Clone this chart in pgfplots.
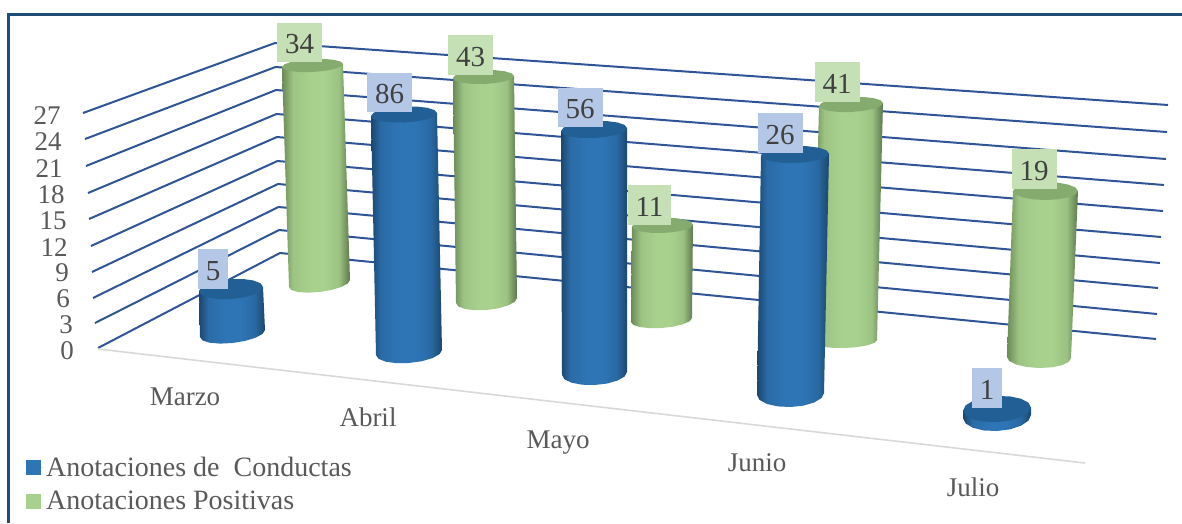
\documentclass[border=0pt]{standalone}
\usepackage{fontspec}
\setmainfont{Liberation Serif}
\usepackage{pgfplots}
\pgfplotsset{compat=1.18}
\usepackage{pgfplotstable}

\definecolor{framec}{HTML}{1F4E79}
\definecolor{gridc}{HTML}{2F5597}
\definecolor{floorc}{HTML}{D9D9D9}
\definecolor{txtc}{HTML}{595959}
\definecolor{lblc}{HTML}{404040}
\definecolor{bluec}{HTML}{2E75B6}
\definecolor{greenc}{HTML}{A9D18E}
\definecolor{bluecap}{HTML}{215F95}
\definecolor{greencap}{HTML}{86AB6E}
\definecolor{bluebox}{HTML}{B4C7E7}
\definecolor{greenbox}{HTML}{C5E0B4}

% the path's box covers 25bp to 75bp of the shading
\pgfdeclarehorizontalshading{cylblue}{100bp}{
  color(0bp)=(framec!90!black); color(25bp)=(framec!90!black); color(32bp)=(bluec!75!framec); color(45bp)=(bluec);
  color(56bp)=(bluec); color(67bp)=(bluec!70!framec); color(75bp)=(framec!90!black); color(100bp)=(framec!90!black)}
\pgfdeclarehorizontalshading{cylgreen}{100bp}{
  color(0bp)=(greencap!80!black); color(25bp)=(greencap!80!black); color(33bp)=(greenc!65!greencap); color(46bp)=(greenc);
  color(56bp)=(greenc); color(67bp)=(greenc!60!greencap); color(75bp)=(greencap!70!black); color(100bp)=(greencap!70!black)}

% outline of a cylinder side: two top corners and the lower half ellipse
\pgfplotstableread{
top c s
1 -1 0
0 -1 0
0 -.924 .383
0 -.707 .707
0 -.383 .924
0 0 1
0 .383 .924
0 .707 .707
0 .924 .383
0 1 0
1 1 0
}\cylside

% full ellipse for the cap
\pgfplotstableread{
c s
1 0
.924 .383
.707 .707
.383 .924
0 1
-.383 .924
-.707 .707
-.924 .383
-1 0
-.924 -.383
-.707 -.707
-.383 -.924
0 -1
.383 -.924
.707 -.707
.924 -.383
}\cylring

% value labels, placed above each cylinder (picture pixels)
\pgfplotstableread{
x y lab
213 269 5
389.5 92.5 86
580 107.5 56
780 133 26
987 388 1
}\bluelabels
\pgfplotstableread{
x y lab
299.5 42.5 34
470.5 55 43
649.5 205 11
837 82 41
1034 169 19
}\greenlabels

\pgfplotstableread{
x y lab
47 116 27
48 142 24
49 169 21
51 195 18
53 221 15
54 248 12
62 273 9
63 299 6
66 325 3
67 351 0
}\yticks

\pgfplotstableread{
x y lab
185 397 Marzo
368 417 Abril
558 443 Mayo
757 463 Junio
973 487 Julio
}\months

% #1 shading, then top left, top right, bottom left, bottom right; \low = lowest y
\newcommand\cylbody[9]{%
  \addplot[shade,shading=#1,draw=none] table[
    x expr={\thisrow{top}*((#2+#4)/2+(#4-#2)/2*\thisrow{c})+(1-\thisrow{top})*((#6+#8)/2+(#8-#6)/2*\thisrow{c})},
    y expr={\thisrow{top}*((#3+#5)/2+(#5-#3)/2*\thisrow{c})+(1-\thisrow{top})*((#7+#9)/2+(#9-#7)/2*\thisrow{c}+(\low-(#7+#9)/2)*\thisrow{s})}
  ] {\cylside};}
% #1 colour, top left, top right, half height
\newcommand\cylcap[6]{%
  \addplot[fill=#1,draw=none] table[
    x expr={(#2+#4)/2+(#4-#2)/2*\thisrow{c}},
    y expr={(#3+#5)/2+(#5-#3)/2*\thisrow{c}+#6*\thisrow{s}}
  ] {\cylring};}

\newcommand\catfont{\fontsize{27}{30}\selectfont}
\newcommand\numfont{\fontsize{29}{32}\selectfont}
\newcommand\legfont{\fontsize{28}{31}\selectfont}
\pgfplotsset{
  textlabels/.style={draw=none,mark=none,nodes near coords,point meta=explicit symbolic,
    every node near coord/.style={anchor=center,font=\catfont,text=txtc,inner sep=0pt}},
  boxlabels/.style={draw=none,mark=none,nodes near coords,point meta=explicit symbolic,
    every node near coord/.style={anchor=center,font=\numfont,text=lblc,fill=#1,
      inner xsep=8pt,inner ysep=0pt,minimum height=39.5pt,text height=22.6pt,text depth=0pt}},
  gridline/.style={draw=gridc,line width=2pt},
}

\begin{document}
\begin{tikzpicture}
\begin{axis}[
  width=1182pt,height=523pt,scale only axis,
  xmin=0,xmax=1182,ymin=0,ymax=523,y dir=reverse,
  hide axis,
  legend style={at={(axis description cs:0.022,0.131)},anchor=north west,draw=none,fill=none,
    font=\legfont\color{txtc},row sep=9.5pt,inner sep=0pt},
  legend cell align=left,
  legend image code/.code={\fill[#1,draw=none] (0pt,-7.5pt) rectangle (15pt,7.5pt);\path[draw=none] (0pt,0pt) -- (18pt,0pt);},
]
\path (rel axis cs:0,0) rectangle (rel axis cs:1,1);

\addlegendimage{fill=bluec}
\addlegendentry{Anotaciones de\ \ Conductas}
\addlegendimage{fill=greenc}
\addlegendentry{Anotaciones Positivas}

% frame
\addplot[draw=framec,line width=3pt] coordinates {(8.7,523) (8.7,14) (1182,14)};

% walls: one line per value 27, 24, ... 0
\addplot[gridline] coordinates {(83,113) (275,43) (1168,105)};
\addplot[gridline] coordinates {(85,139) (275.5,67) (1167,132)};
\addplot[gridline] coordinates {(86,166) (276,90) (1166,159)};
\addplot[gridline] coordinates {(88,193) (276.5,114) (1164,185)};
\addplot[gridline] coordinates {(89,219) (277,137) (1163,211)};
\addplot[gridline] coordinates {(91,246) (277.5,161) (1161,237)};
\addplot[gridline] coordinates {(92,272) (278,184) (1160,263)};
\addplot[gridline] coordinates {(93,298) (278.5,207) (1158,288)};
\addplot[gridline] coordinates {(95,323) (279,230) (1157,314)};
\addplot[gridline] coordinates {(98,348) (280,253) (1156,339)};
% floor edge
\addplot[draw=floorc,line width=1.6pt] coordinates {(98,349) (1085,463)};

% green series
\def\low{292}\cylbody{cylgreen}{282}{67}{343}{64}{289}{287}{350}{280}
\cylcap{greencap}{282}{67}{343}{64}{6.5}
\def\low{310}\cylbody{cylgreen}{453}{78}{514}{76}{456}{303}{517}{298}
\cylcap{greencap}{453}{78}{514}{76}{7}
\def\low{328}\cylbody{cylgreen}{632}{226.5}{693}{224.5}{631}{322}{692}{318}
\cylcap{greencap}{632}{226.5}{693}{224.5}{7.5}
\def\low{348}\cylbody{cylgreen}{819}{106}{883}{103}{813}{342}{877}{340}
\cylcap{greencap}{819}{106}{883}{103}{7.5}
\def\low{368}\cylbody{cylgreen}{1013}{191}{1078}{191}{1007}{357}{1071}{358}
\cylcap{greencap}{1013}{191}{1078}{191}{9}

% blue series
\def\low{343}\cylbody{cylblue}{199}{291}{263}{287}{200}{337}{265}{330}
\cylcap{bluecap}{199}{291}{263}{287}{10}
\def\low{363}\cylbody{cylblue}{371}{116}{437}{113}{376}{355}{442}{350}
\cylcap{bluecap}{371}{116}{437}{113}{8}
\def\low{385}\cylbody{cylblue}{561}{131}{627}{128}{562}{375}{627}{372}
\cylcap{bluecap}{561}{131}{627}{128}{8.5}
\def\low{407}\cylbody{cylblue}{761}{155.5}{829}{153.5}{757}{395}{824}{393}
\cylcap{bluecap}{761}{155.5}{829}{153.5}{8.5}
\def\low{431}\cylbody{cylblue}{963}{410.5}{1031}{407.5}{963}{418}{1031}{415}
\cylcap{bluecap}{963}{410.5}{1031}{407.5}{13}

% texts
\addplot[textlabels] table[meta=lab] {\yticks};
\addplot[textlabels] table[meta=lab] {\months};
\addplot[boxlabels=greenbox] table[meta=lab] {\greenlabels};
\addplot[boxlabels=bluebox] table[meta=lab] {\bluelabels};
\end{axis}
\end{tikzpicture}
\end{document}
